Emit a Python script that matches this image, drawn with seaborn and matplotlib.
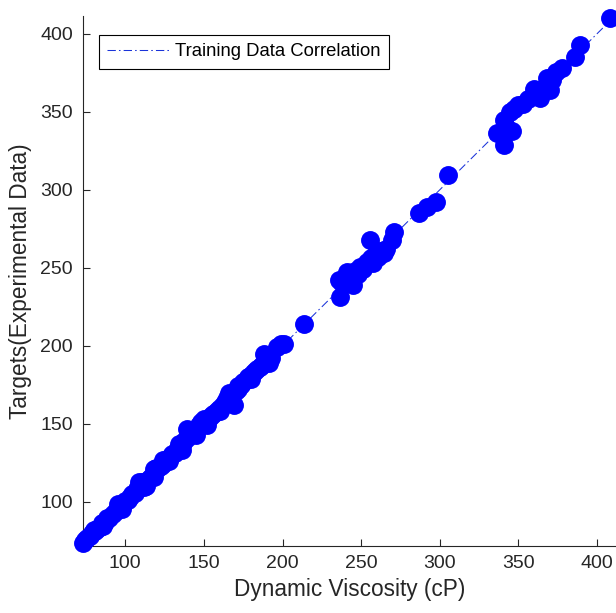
import matplotlib
matplotlib.use("Agg")
import matplotlib.pyplot as plt
import seaborn as sns
import pandas as pd

# Predicted (Dynamic Viscosity, cP) vs experimental targets
pred = [73.0, 74.5, 76.0, 77.5, 79.0, 80.5, 82.0, 84.0, 85.5, 87.0, 88.5, 90.0, 92.0, 94.0,
        95.5, 97.0, 98.5, 100.0, 101.5, 103.0, 104.5, 106.0, 107.5, 109.0, 110.5, 112.0,
        113.5, 115.0, 116.5, 118.0, 119.5, 121.0, 122.5, 124.0, 125.5, 127.0, 128.5, 130.0,
        131.5, 133.0, 134.5, 136.0, 137.5, 139.0, 139.5, 141.0, 142.5, 144.0, 145.5, 147.0,
        148.0, 150.0, 151.5, 153.0, 154.5, 156.0, 157.5, 159.0, 160.5, 162.0, 163.5, 165.0,
        166.0, 167.5, 169.0, 170.5, 172.0, 173.5, 175.0, 176.5, 178.0, 179.5, 181.0, 182.5,
        184.0, 185.5, 187.0, 188.5, 190.0, 191.5, 193.0, 196.5, 199.0, 201.0, 213.4,
        95.5, 98.0, 109.0, 112.0, 118.0, 124.0, 128.0, 134.0, 136.0, 141.0, 145.0, 150.0,
        152.0, 80.0, 86.0, 160.0, 172.0, 180.0,
        236.7, 235.6, 238.0, 241.0, 243.0, 245.1, 246.0, 248.0, 249.4, 251.0, 252.5, 254.0,
        255.7, 256.0, 257.8, 259.0, 261.0, 262.0, 264.2, 266.0, 269.5, 270.6,
        286.5, 291.8, 297.7, 305.3,
        336.3, 340.5, 340.5, 342.0, 345.8, 344.8, 347.0, 350.0, 353.0, 356.0, 359.6, 361.0,
        363.8, 366.0, 368.1, 370.2, 371.0, 373.6, 377.6, 386.1, 389.3, 408.3]
target = [73.5, 75.5, 77.0, 78.0, 80.0, 81.5, 82.5, 84.0, 86.5, 87.0, 89.5, 90.0, 92.0, 94.5,
          96.0, 97.0, 99.0, 100.5, 101.0, 103.5, 105.0, 106.0, 108.5, 109.0, 112.5, 113.0,
          110.5, 114.5, 116.0, 121.0, 122.0, 121.5, 123.0, 124.5, 127.0, 127.0, 129.0, 130.5,
          131.5, 133.5, 135.0, 136.5, 139.0, 141.0, 147.0, 143.0, 144.0, 145.0, 147.0, 149.0,
          151.0, 150.0, 152.0, 153.5, 155.0, 156.5, 157.5, 159.0, 160.5, 162.0, 164.0, 166.5,
          170.0, 168.0, 162.0, 171.0, 172.5, 175.0, 177.0, 178.0, 180.0, 181.0, 182.5, 184.0,
          185.0, 186.5, 188.0, 194.5, 190.0, 189.0, 192.0, 199.5, 201.0, 201.5, 213.9,
          98.5, 95.5, 113.0, 109.5, 116.0, 127.0, 126.0, 137.0, 133.0, 146.0, 143.0, 153.0,
          149.0, 82.0, 84.5, 158.0, 174.0, 178.5,
          231.4, 242.0, 240.0, 247.4, 244.0, 238.9, 248.0, 246.0, 250.6, 249.0, 252.0, 254.0,
          267.8, 256.0, 252.8, 258.0, 257.0, 261.0, 259.2, 262.0, 267.8, 273.1,
          284.8, 289.0, 292.3, 309.2,
          336.2, 328.7, 344.7, 340.0, 337.8, 350.0, 352.0, 354.3, 355.0, 358.0, 364.5, 361.0,
          358.5, 365.0, 371.4, 364.0, 370.0, 375.6, 377.8, 385.3, 392.7, 409.9]
line_x = [72.0, 412.0]
line_y = [72.0, 412.0]

sns.set_style("white")
plt.rcParams['font.family'] = ['Liberation Sans', 'DejaVu Sans']

fig = plt.figure(figsize=(6.16, 6.13), dpi=100)
ax = fig.add_axes([0.1343, 0.1098, 0.8657, 0.8646])

df = pd.DataFrame({"pred": pred, "target": target})
sns.lineplot(x=line_x, y=line_y, ax=ax, color=(0.1, 0.2, 0.85), lw=0.75,
             linestyle=(0, (8, 3, 1.5, 3)), label="Training Data Correlation")
sns.scatterplot(data=df, x="pred", y="target", ax=ax, s=185, color=(0, 0, 1),
                edgecolor=(0, 0, 1), linewidth=0, legend=False, zorder=3, clip_on=False)

ax.set_xlim(73, 412)
ax.set_ylim(72, 411.5)
ax.set_xticks([100, 150, 200, 250, 300, 350, 400])
ax.set_yticks([100, 150, 200, 250, 300, 350, 400])

for s in ["top", "right"]:
    ax.spines[s].set_visible(False)
for s in ["left", "bottom"]:
    ax.spines[s].set_color("#262626")
    ax.spines[s].set_linewidth(0.8)
ax.tick_params(axis="both", direction="in", length=5, width=0.8, colors="#262626",
               labelsize=14, labelcolor="#262626", pad=7, bottom=True, left=True)

ax.set_xlabel("Dynamic Viscosity (cP)", fontsize=16.3, color="#262626", labelpad=4)
ax.set_ylabel("Targets(Experimental Data)", fontsize=16.3, color="#262626", labelpad=6)

leg = ax.legend(loc="upper left", bbox_to_anchor=(0.0306, 0.9636), borderaxespad=0,
                fontsize=13.3, frameon=True, fancybox=False, handlelength=3.4,
                handletextpad=0.25, borderpad=0.45)
leg.get_frame().set_edgecolor("black")
leg.get_frame().set_linewidth(0.8)
leg.get_frame().set_alpha(1)
for t in leg.get_texts():
    t.set_color("black")

fig.savefig("out.png", dpi=100)
